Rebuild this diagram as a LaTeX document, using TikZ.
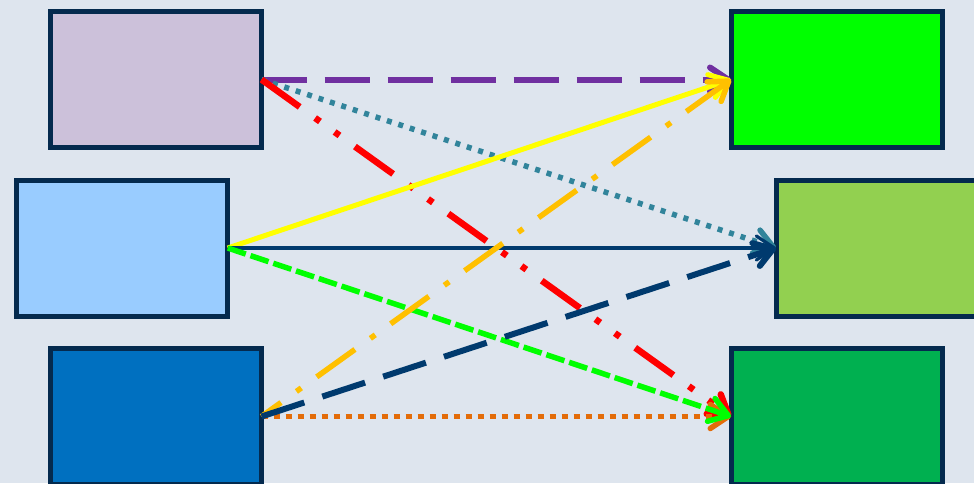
\documentclass[tikz,border=0pt]{standalone}
\usetikzlibrary{arrows.meta}
\definecolor{bgc}{HTML}{DEE5EE}
\definecolor{bordc}{HTML}{042A4E}
\definecolor{fA}{HTML}{CCC1DA}
\definecolor{fB}{HTML}{99CCFF}
\definecolor{fC}{HTML}{0070C0}
\definecolor{fD}{HTML}{00FF00}
\definecolor{fE}{HTML}{92D050}
\definecolor{fF}{HTML}{00B050}
\definecolor{cpurple}{HTML}{7030A0}
\definecolor{cteal}{HTML}{31849B}
\definecolor{cred}{HTML}{FF0000}
\definecolor{cyellow}{HTML}{FFFF00}
\definecolor{cnavy}{HTML}{003A6E}
\definecolor{cgreen}{HTML}{00FF00}
\definecolor{corange}{HTML}{FFC000}
\definecolor{cdorange}{HTML}{E36C09}
\tikzset{
  box/.style={draw=bordc, line width=5pt, minimum width=211pt, minimum height=136pt,
    inner sep=0pt, outer sep=0pt, rectangle},
  conn/.style={line width=#1, line cap=butt,
    -{Straight Barb[length=18pt,width=24pt,round]}},
  conn/.default=6pt
}
\begin{document}
\begin{tikzpicture}[x=1pt,y=-1pt]
\useasboundingbox (0,0) rectangle (974,483);
\clip (0,0) rectangle (974,483);
\fill[bgc] (0,0) rectangle (974,483);
\node[box, fill=fA] (a) at (156,79.5) {};
\node[box, fill=fB] (b) at (122.25,248) {};
\node[box, fill=fC] (c) at (156,416.5) {};
\node[box, fill=fD] (d) at (836.5,79.5) {};
\node[box, fill=fE] (e) at (881.5,248) {};
\node[box, fill=fF] (f) at (836.5,416.5) {};
% from A
\draw[conn=6pt, cpurple, dash pattern=on 45pt off 18pt] (a.east) -- (d.west);
\draw[conn=5.5pt, cteal, dash pattern=on 5pt off 7pt] (a.east) -- (e.west);
\draw[conn=6.5pt, cred, dash pattern=on 47pt off 19pt on 6pt off 18pt on 6pt off 19pt] (a.east) -- (f.west);
% orange dotted from C
\draw[conn=5.5pt, cdorange, dash pattern=on 6pt off 6pt] (c.east) -- (f.west);
% from B
\draw[conn=5pt, cyellow] (b.east) -- (d.west);
\draw[conn=3.3pt, cnavy] (b.east) -- (e.west);
\draw[conn=5.5pt, cgreen, dash pattern=on 19pt off 5pt] (b.east) -- (f.west);
% from C
\draw[conn=5.5pt, corange, dash pattern=on 47pt off 19pt on 6pt off 19pt, dash phase=23pt] (c.east) -- (d.west);
\draw[conn=6pt, cnavy, dash pattern=on 45pt off 19pt] (c.east) -- (e.west);
\end{tikzpicture}
\end{document}
